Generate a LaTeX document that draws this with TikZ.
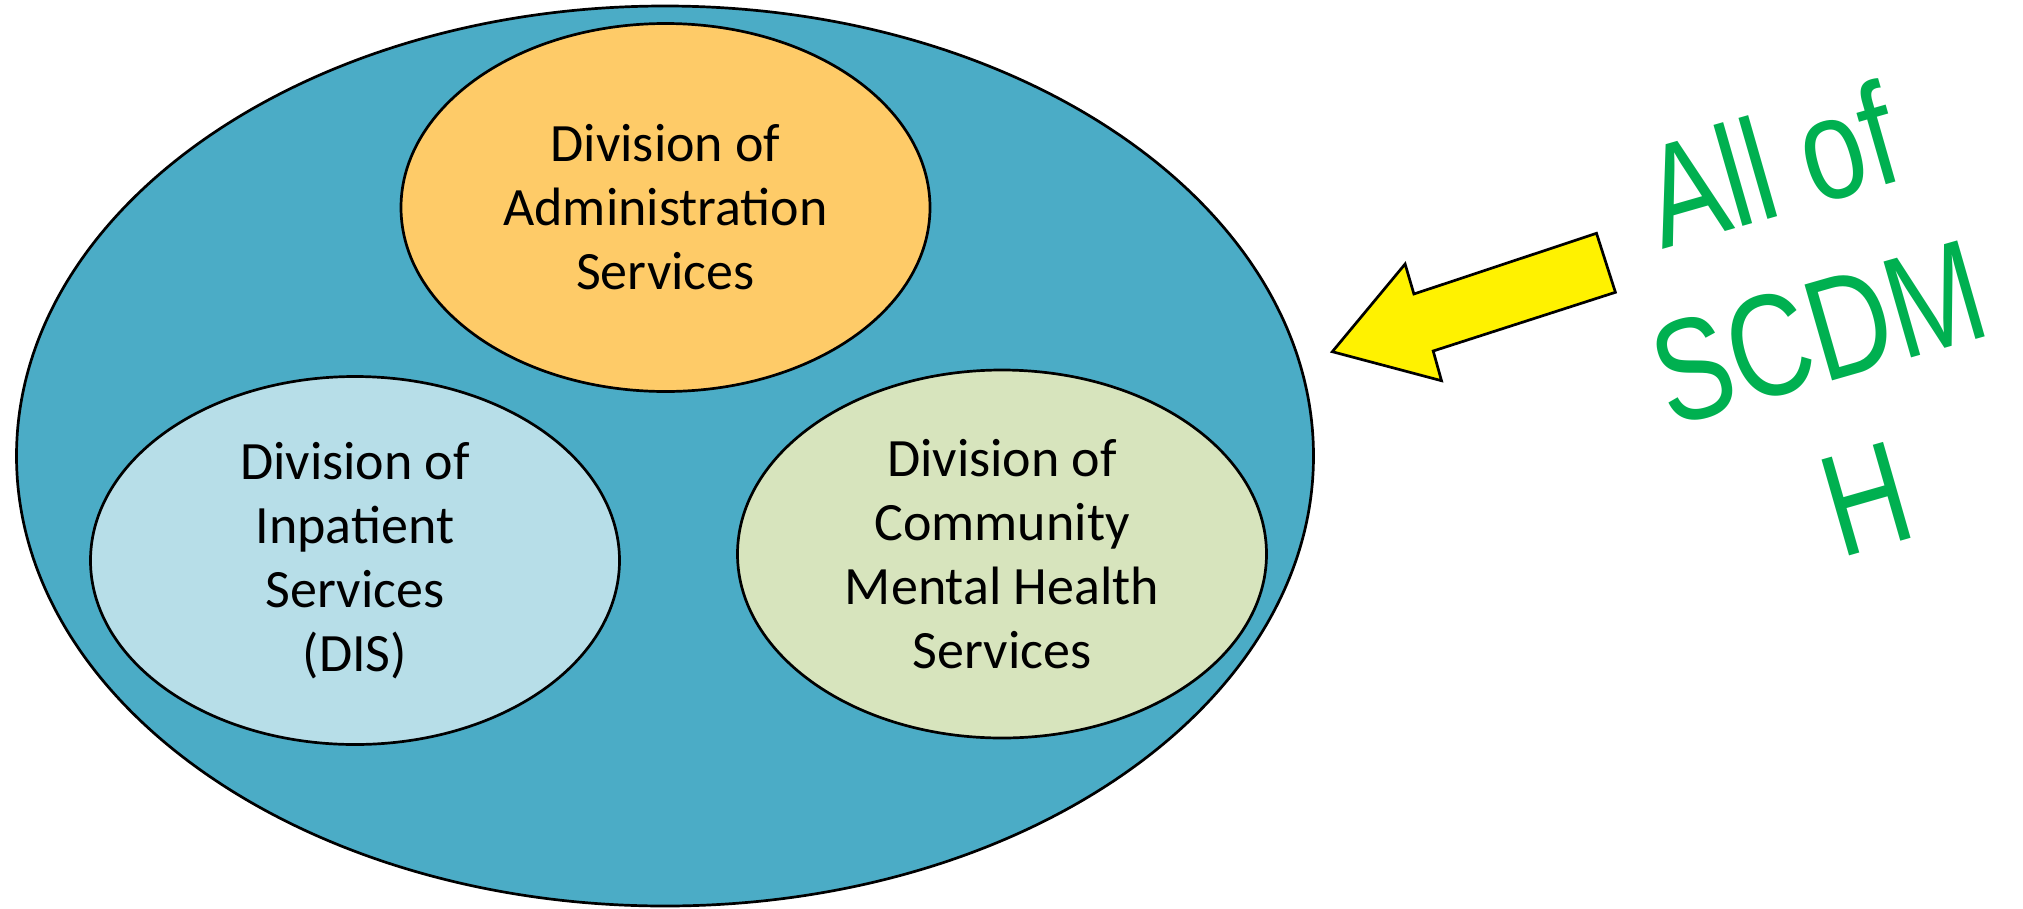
\documentclass[tikz,border=0pt]{standalone}
\usepackage{fontspec}
\setmainfont{Carlito}
\newfontfamily\arialfont{Liberation Sans}
\usetikzlibrary{shapes.geometric}
\definecolor{outerblue}{RGB}{75,172,198}
\definecolor{adminfill}{RGB}{254,203,104}
\definecolor{inpatfill}{RGB}{183,222,232}
\definecolor{commufill}{RGB}{215,228,189}
\definecolor{sgreen}{RGB}{0,176,80}
\begin{document}
\begin{tikzpicture}[x=1pt,y=1pt,
  division/.style={ellipse, draw=black, line width=2.7pt, inner sep=0pt, align=center,
    font=\fontsize{54}{64}\selectfont, minimum width=529pt, minimum height=368pt},
  gtext/.style={text=sgreen, font=\arialfont\fontsize{145}{173}\selectfont, inner sep=0pt, align=center}]
\useasboundingbox (0,0) rectangle (2023,-908);
\node[ellipse, draw=black, fill=outerblue, minimum width=1297pt, minimum height=900pt,
  inner sep=0pt, line width=2.7pt] (scdmh) at (665,-456) {};
\node[division, fill=adminfill] (admin) at (665.5,-207.5) {Division of\\Administration\\Services};
\node[division, fill=inpatfill] (dis) at (355,-560.5) {Division of\\Inpatient\\Services\\(DIS)};
\node[division, fill=commufill] (cmhs) at (1002,-554) {Division of\\Community\\Mental Health\\Services};
\draw[fill=yellow, line width=2.7pt, line join=miter]
  (1332.3,-351.7) -- (1405.1,-264) -- (1413.9,-294) -- (1596.5,-233.3)
  -- (1615.4,-292.3) -- (1433.2,-351) -- (1441.5,-380.7) -- cycle;
\begin{scope}[shift={(1818,-331)}, rotate=16, xscale=0.79, transform shape]
  \node[gtext] (allof) at (0,1) {All of\\SCDM\\H};
\end{scope}
\end{tikzpicture}
\end{document}
